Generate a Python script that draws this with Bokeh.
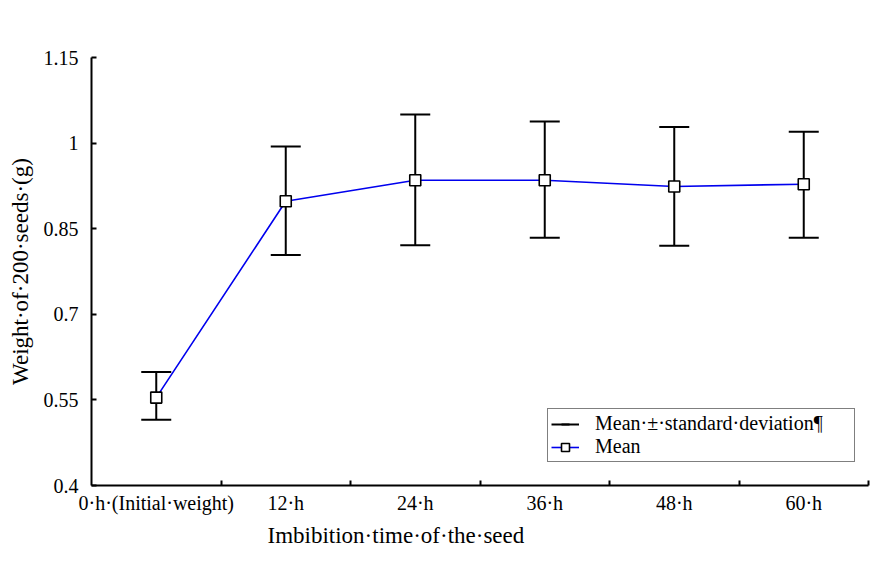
import numpy as np
from bokeh.plotting import figure
from bokeh.models import (ColumnDataSource, FixedTicker, Legend, LegendItem, Range1d, Title)
from bokeh.embed import file_html
from bokeh.resources import INLINE

# ---- data ----
categories = ["0·h·(Initial·weight)", "12·h", "24·h", "36·h", "48·h", "60·h"]
mean_values = [0.554, 0.898, 0.935, 0.935, 0.924, 0.928]
upper_values = [0.599, 0.994, 1.050, 1.038, 1.028, 1.020]
lower_values = [0.515, 0.804, 0.821, 0.834, 0.820, 0.834]
y_ticks = [0.4, 0.55, 0.7, 0.85, 1.0, 1.15]
y_tick_labels = ["0.4", "0.55", "0.7", "0.85", "1", "1.15"]
x_title = "Imbibition·time·of·the·seed"
y_title = "Weight·of·200·seeds·(g)"

FONT = "'Liberation Serif', 'Times New Roman', serif"

xpos = list(range(1, len(categories) + 1))
src = ColumnDataSource(dict(x=xpos, mean=mean_values, upper=upper_values, lower=lower_values))

p = figure(width=876, height=551, output_backend="svg", toolbar_location=None,
           x_range=Range1d(0.5, len(categories) + 0.5), y_range=Range1d(0.4, 1.15),
           min_border_left=91, min_border_right=8, min_border_top=57, min_border_bottom=65)
p.outline_line_color = None
p.xgrid.visible = False
p.ygrid.visible = False
p.background_fill_color = "white"
p.border_fill_color = "white"

# error bars
seg = p.segment(x0="x", y0="lower", x1="x", y1="upper", source=src, line_color="black", line_width=2)
cap_top = p.scatter(x="x", y="upper", source=src, marker="dash", size=30, line_color="black", line_width=2)
cap_bot = p.scatter(x="x", y="lower", source=src, marker="dash", size=30, line_color="black", line_width=2)

# mean line + markers
ln = p.line(x="x", y="mean", source=src, line_color="#0000ee", line_width=1.6)
mk = p.scatter(x="x", y="mean", source=src, marker="square", size=11, fill_color="white",
               line_color="black", line_width=1.6)

# axes
xa = p.xaxis[0]
xa.ticker = FixedTicker(ticks=xpos, minor_ticks=[x + 0.5 for x in xpos])
xa.major_label_overrides = {x: c for x, c in zip(xpos, categories)}
xa.major_tick_in = 0
xa.major_tick_out = 0
xa.minor_tick_in = 5
xa.minor_tick_out = 0
xa.minor_tick_line_color = "black"
xa.minor_tick_line_width = 2
xa.axis_line_color = "black"
xa.axis_line_width = 2
xa.major_label_text_font = FONT
xa.major_label_text_font_size = "20px"
xa.major_label_text_color = "black"
xa.major_label_standoff = 6

xt = Title(text=x_title, align="left", offset=176, standoff=8,
           text_font=FONT, text_font_size="23px", text_font_style="normal", text_color="black")
p.add_layout(xt, "below")

ya = p.yaxis[0]
ya.ticker = FixedTicker(ticks=y_ticks, minor_ticks=[])
ya.major_label_overrides = {t: l for t, l in zip(y_ticks, y_tick_labels)}
ya.major_tick_in = 5
ya.major_tick_out = 0
ya.major_tick_line_color = "black"
ya.major_tick_line_width = 2
ya.axis_line_color = "black"
ya.axis_line_width = 2
ya.major_label_text_font = FONT
ya.major_label_text_font_size = "20px"
ya.major_label_text_color = "black"
ya.major_label_standoff = 13
ya.axis_label = y_title
ya.axis_label_text_font = FONT
ya.axis_label_text_font_size = "23px"
ya.axis_label_text_font_style = "normal"
ya.axis_label_text_color = "black"
ya.axis_label_standoff = 8

legend = Legend(items=[
    LegendItem(label="Mean·±·standard·deviation¶", renderers=[seg, cap_top]),
    LegendItem(label="Mean", renderers=[ln, mk]),
], location=(456, 23))
legend.label_text_font = FONT
legend.label_text_font_size = "20px"
legend.label_text_color = "black"
legend.label_height = 20
legend.label_width = 256
legend.glyph_height = 20
legend.glyph_width = 28
legend.label_standoff = 16
legend.padding = 3
legend.spacing = 0
legend.margin = 0
legend.border_line_color = "black"
legend.border_line_width = 1
legend.background_fill_color = "white"
legend.background_fill_alpha = 1
p.add_layout(legend)

open("out.html", "w").write(file_html(p, INLINE))
